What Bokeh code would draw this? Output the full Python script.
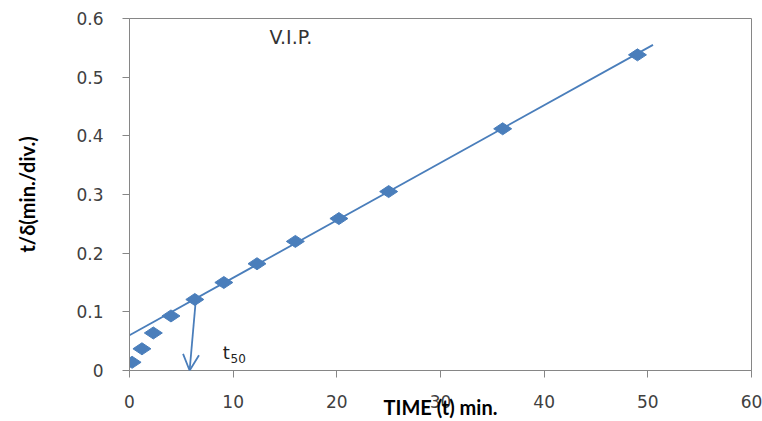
from bokeh.plotting import figure
from bokeh.models import Range1d, Label, Arrow, OpenHead, FixedTicker
from bokeh.embed import file_html
from bokeh.resources import INLINE

# Measured points: time (min) and t/delta (min./div.)
time_min = [0.25, 1.2, 2.3, 4.0, 6.3, 9.1, 12.3, 16.0, 20.2, 25.0, 36.0, 49.0]
t_over_delta = [0.014, 0.037, 0.064, 0.093, 0.121, 0.150, 0.182, 0.220, 0.259, 0.305, 0.412, 0.538]

# Linear trend line end points
trend_x = [0.0, 50.5]
trend_y = [0.060, 0.555]

# t50 arrow: from the point on the line down to the time axis
t50_from = (6.4, 0.121)
t50_to = (5.8, 0.0)

x_ticks = [0, 10, 20, 30, 40, 50, 60]
y_ticks = [0, 0.1, 0.2, 0.3, 0.4, 0.5, 0.6]

BLUE = "#4a7ebb"
AXIS_GREY = "#868686"
TICK_FONT = "DejaVu Sans"
TITLE_FONT = "Lato"

p = figure(width=762, height=421, output_backend="svg", toolbar_location=None,
           x_range=Range1d(0, 60), y_range=Range1d(0, 0.6),
           min_border_left=129, min_border_right=11, min_border_top=18, min_border_bottom=51)

p.background_fill_color = "white"
p.border_fill_color = "white"
p.outline_line_color = AXIS_GREY
p.outline_line_width = 1
p.xgrid.visible = False
p.ygrid.visible = False

for ax in (p.xaxis[0], p.yaxis[0]):
    ax.axis_line_color = AXIS_GREY
    ax.major_tick_line_color = AXIS_GREY
    ax.minor_tick_line_color = None
    ax.major_tick_in = 0
    ax.major_tick_out = 7
    ax.major_label_text_font = TICK_FONT
    ax.major_label_text_font_size = "17px"
    ax.major_label_text_color = "#404040"

p.xaxis.ticker = FixedTicker(ticks=x_ticks)
p.yaxis.ticker = FixedTicker(ticks=y_ticks)
p.xaxis.major_label_overrides = {0: "0", 10: "10", 20: "20", 30: "30", 40: "40", 50: "50", 60: "60"}
p.yaxis.major_label_overrides = {0: "0", 0.1: "0.1", 0.2: "0.2", 0.3: "0.3", 0.4: "0.4", 0.5: "0.5", 0.6: "0.6"}
p.xaxis.major_label_standoff = 17
p.yaxis.major_label_standoff = 19

p.yaxis.axis_label = "t/δ(min./div.)"
p.yaxis.axis_label_text_font = TITLE_FONT
p.yaxis.axis_label_text_font_style = "bold"
p.yaxis.axis_label_text_font_size = "20px"
p.yaxis.axis_label_text_color = "black"
p.yaxis.axis_label_standoff = 34

# Time-axis title tucked up against the tick labels
p.xaxis.axis_label = "TIME (t) min."
p.xaxis.axis_label_text_font = TITLE_FONT
p.xaxis.axis_label_text_font_style = "bold"
p.xaxis.axis_label_text_font_size = "20px"
p.xaxis.axis_label_text_color = "black"
p.xaxis.axis_label_standoff = -16

# Trend line and data markers
p.line(trend_x, trend_y, line_color=BLUE, line_width=1.8)
p.scatter(time_min, t_over_delta, marker="diamond", size=18, angle=90, angle_units="deg",
          fill_color=BLUE, line_color=BLUE)

# t50 arrow and label
p.add_layout(Arrow(end=OpenHead(size=16, line_color=BLUE, line_width=1.8),
                   x_start=t50_from[0], y_start=t50_from[1],
                   x_end=t50_to[0], y_end=t50_to[1],
                   line_color=BLUE, line_width=1.8))
p.add_layout(Label(x=9.0, y=0.030, text="t", text_font=TICK_FONT,
                   text_font_size="18px", text_color="#222222", text_baseline="middle"))
p.add_layout(Label(x=9.75, y=0.021, text="50", text_font=TICK_FONT,
                   text_font_size="12px", text_color="#222222", text_baseline="middle"))

# Series caption
p.add_layout(Label(x=13.5, y=0.568, text="V.I.P.", text_font=TICK_FONT,
                   text_font_size="19px", text_color="#333333", text_baseline="middle"))

open("out.html", "w").write(file_html(p, INLINE))
